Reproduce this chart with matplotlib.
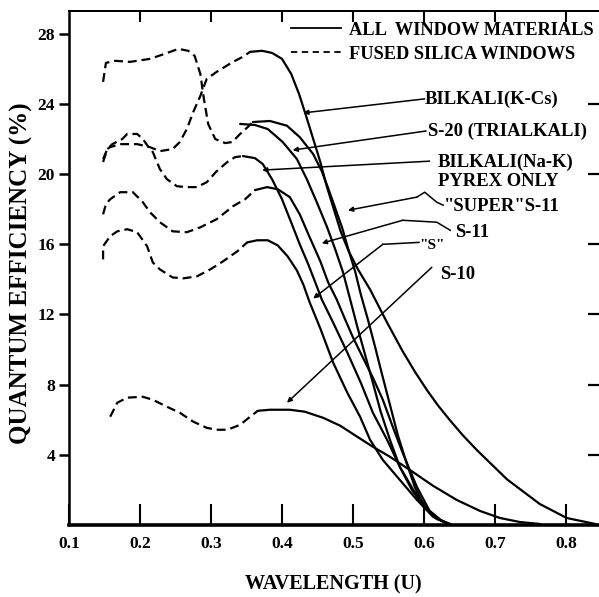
import matplotlib
matplotlib.use('Agg')
import matplotlib.pyplot as plt
from matplotlib.lines import Line2D

plt.rcParams['font.family'] = ['Liberation Serif', 'DejaVu Serif']
plt.rcParams['font.weight'] = 'bold'

# ---- data (wavelength in micron, QE in %) ----
# solid = all window materials, dashed = fused silica windows only

# top curve (bialkali K-Cs), with the long red tail
kcs_x = [0.355, 0.372, 0.386, 0.400, 0.413, 0.424, 0.434, 0.444, 0.454, 0.463, 0.473, 0.483,
         0.494, 0.507, 0.524, 0.548, 0.570, 0.587, 0.604, 0.620, 0.637, 0.655, 0.675, 0.717,
         0.763, 0.801, 0.841]
kcs_y = [26.97, 27.03, 26.91, 26.57, 25.71, 24.57, 23.31, 22.00, 20.69, 19.31, 18.00, 16.69,
         15.60, 14.57, 13.43, 11.54, 9.90, 8.75, 7.70, 6.80, 5.95, 5.10, 4.25, 2.60,
         1.20, 0.40, 0.06]
kcs_fs_x = [0.148, 0.154, 0.158, 0.172, 0.196, 0.214, 0.228, 0.246, 0.256, 0.266, 0.275,
            0.285, 0.294, 0.308, 0.331, 0.345, 0.355]
kcs_fs_y = [20.69, 21.43, 21.54, 21.71, 21.71, 21.54, 21.31, 21.43, 21.83, 22.57, 23.54,
            24.46, 25.43, 25.83, 26.40, 26.69, 26.97]

# S-20 (trialkali)
s20_x = [0.359, 0.383, 0.407, 0.425, 0.435, 0.444, 0.456, 0.465, 0.475, 0.485, 0.493, 0.503,
         0.511, 0.521, 0.531, 0.541, 0.552, 0.563, 0.575, 0.587, 0.601, 0.618, 0.637]
s20_y = [22.97, 23.03, 22.76, 22.11, 21.60, 21.14, 20.17, 19.20, 18.06, 16.91, 15.77, 14.46,
         13.14, 11.71, 10.17, 8.57, 6.86, 5.14, 3.60, 2.17, 1.03, 0.34, 0.06]
s20_fs_x = [0.148, 0.152, 0.165, 0.186, 0.214, 0.235, 0.254, 0.268, 0.277, 0.285, 0.290,
            0.296, 0.306, 0.320, 0.330, 0.341, 0.352, 0.359]
s20_fs_y = [25.26, 26.34, 26.46, 26.40, 26.57, 26.86, 27.14, 27.03, 26.74, 25.71, 24.29,
            22.86, 22.00, 21.77, 21.83, 22.29, 22.69, 22.97]

# second curve peaking near 22.8
b2_x = [0.341, 0.362, 0.380, 0.401, 0.421, 0.435, 0.449, 0.463, 0.475, 0.486, 0.496,
        0.506, 0.517, 0.528, 0.539, 0.552, 0.566, 0.583, 0.601, 0.623, 0.639]
b2_y = [22.86, 22.80, 22.57, 21.83, 20.86, 19.71, 18.40, 17.03, 15.71, 14.40, 12.86,
        11.31, 9.71, 8.11, 6.46, 4.86, 3.31, 2.00, 0.97, 0.29, 0.0]

# bialkali Na-K (peak ~20.8)
nak_x = [0.345, 0.362, 0.373, 0.386, 0.400, 0.414, 0.425, 0.437, 0.448, 0.456, 0.472,
         0.492, 0.511, 0.528, 0.548, 0.566, 0.585, 0.606, 0.625, 0.639]
nak_y = [21.03, 20.91, 20.57, 19.71, 18.57, 17.14, 16.00, 14.86, 13.71, 12.86, 11.54,
         9.83, 8.11, 6.40, 4.86, 3.31, 2.00, 0.86, 0.23, 0.0]
nak_fs_x = [0.148, 0.154, 0.161, 0.175, 0.182, 0.196, 0.204, 0.211, 0.218, 0.228, 0.238,
            0.252, 0.266, 0.280, 0.294, 0.308, 0.323, 0.334, 0.345]
nak_fs_y = [20.86, 21.43, 21.71, 22.00, 22.29, 22.29, 22.00, 21.60, 21.26, 20.29, 19.71,
            19.31, 19.26, 19.26, 19.54, 20.17, 20.69, 20.97, 21.03]

# "super" S-11 (peak ~19)
sup_x = [0.362, 0.379, 0.394, 0.411, 0.425, 0.439, 0.454, 0.465, 0.477, 0.489, 0.500,
         0.514, 0.528, 0.542, 0.556, 0.570, 0.590, 0.608, 0.623, 0.637]
sup_y = [19.09, 19.26, 19.14, 18.69, 17.71, 16.40, 15.03, 13.83, 12.86, 11.71, 10.69,
         9.54, 8.40, 7.14, 5.60, 4.11, 2.17, 0.80, 0.29, 0.0]
sup_fs_x = [0.148, 0.152, 0.158, 0.172, 0.190, 0.204, 0.214, 0.228, 0.246, 0.266, 0.285,
            0.308, 0.331, 0.348, 0.362]
sup_fs_y = [17.71, 18.29, 18.57, 18.97, 18.97, 18.40, 17.83, 17.26, 16.74, 16.69, 16.97,
            17.43, 18.17, 18.57, 19.09]

# S-11 (peak ~16)
s11_x = [0.351, 0.365, 0.380, 0.394, 0.408, 0.421, 0.430, 0.439, 0.454, 0.472, 0.492,
         0.510, 0.524, 0.542, 0.566, 0.590, 0.613, 0.634]
s11_y = [16.11, 16.23, 16.23, 15.94, 15.31, 14.51, 13.71, 12.69, 11.20, 9.26, 7.54,
         6.17, 4.86, 3.71, 2.57, 1.43, 0.46, 0.06]
s11_fs_x = [0.148, 0.148, 0.158, 0.168, 0.182, 0.196, 0.210, 0.218, 0.228, 0.246, 0.261,
            0.280, 0.299, 0.317, 0.337, 0.351]
s11_fs_y = [15.14, 15.89, 16.46, 16.74, 16.86, 16.69, 15.89, 14.97, 14.57, 14.11, 14.06,
            14.17, 14.57, 15.03, 15.60, 16.11]

# S-10
s10_x = [0.366, 0.383, 0.411, 0.432, 0.458, 0.482, 0.506, 0.528, 0.552, 0.580, 0.613,
         0.646, 0.679, 0.707, 0.735, 0.763]
s10_y = [6.51, 6.57, 6.57, 6.46, 6.11, 5.66, 5.03, 4.46, 3.89, 3.14, 2.23,
         1.43, 0.80, 0.40, 0.17, 0.06]
s10_fs_x = [0.158, 0.168, 0.182, 0.204, 0.218, 0.238, 0.256, 0.275, 0.294, 0.308, 0.323,
            0.341, 0.355, 0.366]
s10_fs_y = [6.17, 6.97, 7.26, 7.31, 7.14, 6.74, 6.40, 5.89, 5.54, 5.43, 5.43,
            5.71, 6.17, 6.51]

x_ticks = [0.1, 0.2, 0.3, 0.4, 0.5, 0.6, 0.7, 0.8]
x_ticklabels = ['0.1', '0.2', '0.3', '0.4', '0.5', '0.6', '0.7', '0.8']
y_ticks = [4, 8, 12, 16, 20, 24, 28]

legend_labels = ['ALL  WINDOW MATERIALS', 'FUSED SILICA WINDOWS']

solid_curves = [(kcs_x, kcs_y), (s20_x, s20_y), (b2_x, b2_y), (nak_x, nak_y),
                (sup_x, sup_y), (s11_x, s11_y), (s10_x, s10_y)]
dashed_curves = [(kcs_fs_x, kcs_fs_y), (s20_fs_x, s20_fs_y), (nak_fs_x, nak_fs_y),
                 (sup_fs_x, sup_fs_y), (s11_fs_x, s11_fs_y), (s10_fs_x, s10_fs_y)]

DASH = (0, (4, 2.2))
FS = 13.4

# ---- figure ----
fig = plt.figure(figsize=(5.99, 5.97), dpi=100)
ax = fig.add_axes([0.1152, 0.1206, 0.8848, 0.861])

for xs, ys in solid_curves:
    ax.plot(xs, ys, color='black', lw=1.6, solid_capstyle='round')
for xs, ys in dashed_curves:
    ax.plot(xs, ys, color='black', lw=1.6, linestyle=DASH)

ax.set_xlim(0.1, 0.8465)
ax.set_ylim(0, 29.3)

# ---- curve labels with pointer lines ----
arrow = dict(arrowstyle='-|>', lw=1.1, color='black', mutation_scale=7,
             shrinkA=0, shrinkB=0)
txt = dict(fontsize=FS, fontweight='bold', va='center', ha='left')

ax.text(0.601, 24.29, 'BILKALI(K-Cs)', **txt)
ax.annotate('', xy=(0.430, 23.49), xytext=(0.601, 24.29), arrowprops=arrow)

ax.text(0.606, 22.46, 'S-20 (TRIALKALI)', **txt)
ax.annotate('', xy=(0.415, 21.37), xytext=(0.603, 22.46), arrowprops=arrow)

ax.text(0.620, 20.69, 'BILKALI(Na-K)', **txt)
ax.annotate('', xy=(0.372, 20.23), xytext=(0.608, 20.74), arrowprops=arrow)

ax.text(0.620, 19.60, 'PYREX ONLY', **txt)

ax.text(0.628, 18.17, '"SUPER"S-11', **txt)
ax.plot([0.627, 0.618, 0.601, 0.590], [18.23, 18.40, 18.97, 18.69], color='black', lw=1.1)
ax.annotate('', xy=(0.493, 17.94), xytext=(0.590, 18.69), arrowprops=arrow)

ax.text(0.644, 16.69, 'S-11', **txt)
ax.plot([0.637, 0.618, 0.570], [16.80, 17.26, 17.37], color='black', lw=1.1)
ax.annotate('', xy=(0.456, 16.06), xytext=(0.570, 17.37), arrowprops=arrow)

ax.text(0.593, 15.95, '"S"', fontsize=11, fontweight='bold', va='center', ha='left')
ax.plot([0.593, 0.542], [16.11, 16.00], color='black', lw=1.1)
ax.annotate('', xy=(0.444, 12.91), xytext=(0.542, 16.00), arrowprops=arrow)

ax.text(0.623, 14.29, 'S-10', **txt)
ax.annotate('', xy=(0.407, 6.97), xytext=(0.611, 14.69), arrowprops=arrow)

# ---- legend ----
handles = [Line2D([], [], color='black', lw=1.3),
           Line2D([], [], color='black', lw=1.3, linestyle=(0, (3.5, 2.5)))]
ax.legend(handles, legend_labels, loc='upper left', bbox_to_anchor=(0.419, 0.979),
          frameon=False, borderpad=0, borderaxespad=0, handlelength=2.7,
          handletextpad=0.45, labelspacing=0.37,
          prop={'family': 'Liberation Serif', 'weight': 'bold', 'size': 13.2})

# ---- axes styling ----
ax.spines['right'].set_visible(False)
ax.spines['top'].set_linewidth(1.3)
ax.spines['left'].set_linewidth(1.8)
ax.spines['bottom'].set_linewidth(2.6)

ax.set_xticks(x_ticks)
ax.set_xticklabels(x_ticklabels)
ax.set_yticks(y_ticks)
ax.tick_params(axis='x', direction='in', length=15, width=1.5, pad=8, labelsize=12.5, top=False)
ax.tick_params(axis='y', direction='out', length=7, width=1.8, pad=3, labelsize=12.5)

top = ax.secondary_xaxis('top')
top.set_xticks(x_ticks[1:])
top.tick_params(direction='in', length=8, width=1.5, labeltop=False)
top.spines['top'].set_linewidth(1.3)

right = ax.secondary_yaxis('right')
right.set_yticks(y_ticks[:-1])
right.tick_params(direction='in', length=8, width=1.6, labelright=False)
right.spines['right'].set_visible(False)

ax.set_ylabel('QUANTUM EFFICIENCY (%)', fontsize=18, fontweight='bold')
ax.yaxis.set_label_coords(-0.068, 0.49)
ax.set_xlabel('WAVELENGTH (U)', fontsize=14.5, fontweight='bold')
ax.xaxis.set_label_coords(0.498, -0.097)

fig.savefig('out.png', dpi=100)
